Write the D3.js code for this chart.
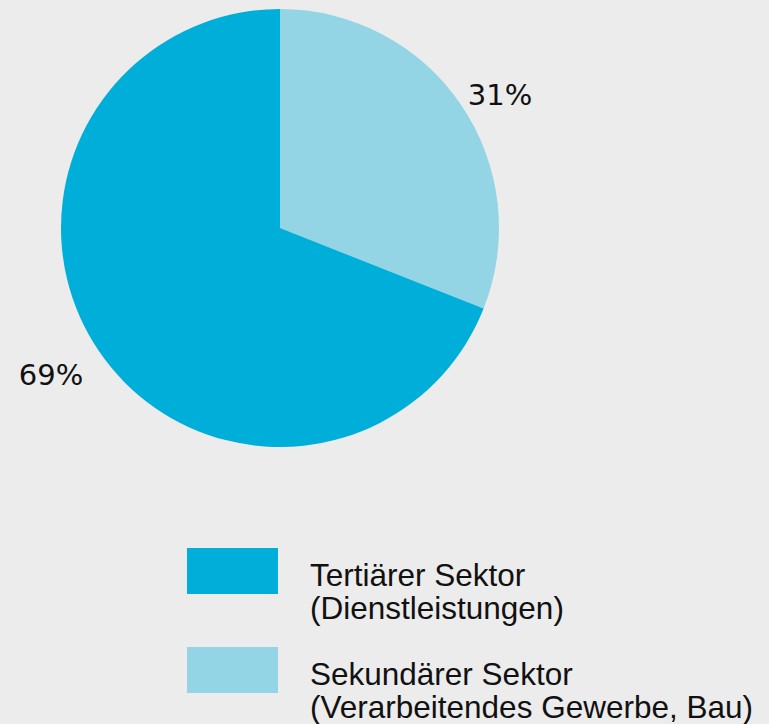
<!DOCTYPE html>
<html><head><meta charset="utf-8">
<script src="https://cdn.jsdelivr.net/npm/d3@7"></script>
<style>html,body{margin:0;padding:0;background:#ececec;}</style>
</head><body>
<script>
const categories = ["Sekundärer Sektor (Verarbeitendes Gewerbe, Bau)", "Tertiärer Sektor (Dienstleistungen)"];
const values = [31, 69];
const colors = ["#93d4e5", "#00afd9"];
const legendOrder = [1, 0];
const legendLines = [["Tertiärer Sektor", "(Dienstleistungen)"], ["Sekundärer Sektor", "(Verarbeitendes Gewerbe, Bau)"]];

const W = 769, H = 724;
const svg = d3.select("body").append("svg").attr("width", W).attr("height", H);
svg.append("rect").attr("width", W).attr("height", H).attr("fill", "#ececec");

const cx = 280, cy = 228, R = 219;
const pie = d3.pie().sort(null).value(d => d)(values);
const arc = d3.arc().innerRadius(0).outerRadius(R);
const g = svg.append("g").attr("transform", `translate(${cx},${cy})`);
g.selectAll("path").data(pie).join("path").attr("d", arc).attr("fill", (d, i) => colors[i]);

// labels
const labelPos = [[500, 105], [51, 385]];
svg.selectAll("text.pct").data(values).join("text").attr("class", "pct")
  .attr("x", (d, i) => labelPos[i][0]).attr("y", (d, i) => labelPos[i][1])
  .attr("text-anchor", "middle")
  .style("font-family", "'DejaVu Sans', sans-serif").style("font-size", "29px").attr("fill", "#111")
  .text(d => d + "%");

// legend
const lg = svg.append("g");
legendOrder.forEach((idx, k) => {
  const y0 = 548 + k * 99;
  lg.append("rect").attr("x", 187).attr("y", y0).attr("width", 91).attr("height", 46).attr("fill", colors[idx]);
  legendLines[k].forEach((t, j) => {
    lg.append("text").attr("x", 310).attr("y", y0 + 38 + j * 33)
      .style("font-family", "'Liberation Sans', Arial, sans-serif").style("font-size", "31.5px").attr("fill", "#111").text(t);
  });
});
</script>
</body></html>
